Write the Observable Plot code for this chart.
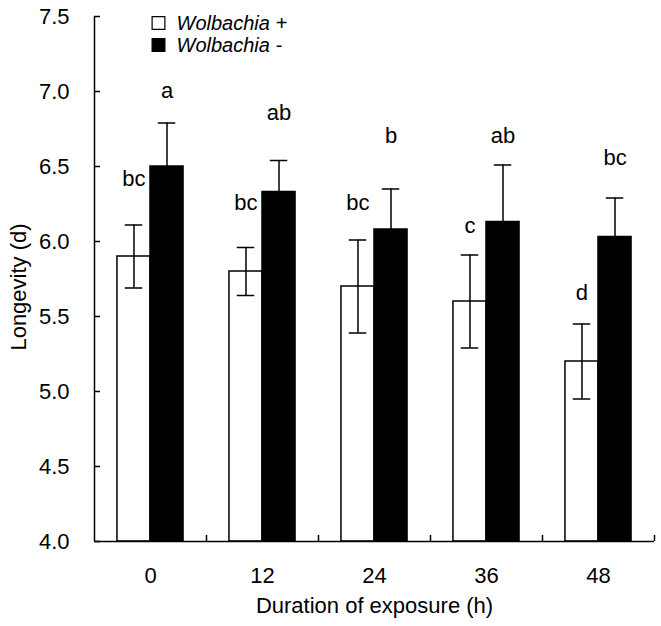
<!DOCTYPE html>
<html><head><meta charset="utf-8">
<script src="https://cdn.jsdelivr.net/npm/d3@7"></script>
<script src="https://cdn.jsdelivr.net/npm/@observablehq/plot@0.6"></script>
<style>body{margin:0;background:#fff} svg{display:block}</style>
</head><body><div id="chart"></div>
<script>
// ---- data ----
const durations = ["0", "12", "24", "36", "48"];
const seriesNames = ["Wolbachia +", "Wolbachia -"];
const wolPlusMean = [5.90, 5.80, 5.70, 5.60, 5.20];
const wolPlusSE = [0.21, 0.16, 0.31, 0.31, 0.25];
const wolMinusMean = [6.50, 6.33, 6.08, 6.13, 6.03];
const wolMinusSE = [0.29, 0.21, 0.27, 0.38, 0.26];
const wolPlusLetters = ["bc", "bc", "bc", "c", "d"];
const wolMinusLetters = ["a", "ab", "b", "ab", "bc"];
const wolPlusLetterY = [6.37, 6.21, 6.21, 6.06, 5.61];
const wolMinusLetterY = [6.955, 6.81, 6.66, 6.66, 6.51];
const yTicks = [4.0, 4.5, 5.0, 5.5, 6.0, 6.5, 7.0, 7.5];

// ---- build table ----
const barW = 0.295, capW = 0.078;
const rows = [];
durations.forEach((d, i) => {
  rows.push({i, series: seriesNames[0], mean: wolPlusMean[i], se: wolPlusSE[i], letter: wolPlusLetters[i], ly: wolPlusLetterY[i], x1: i - barW, x2: i, xc: i - barW / 2});
  rows.push({i, series: seriesNames[1], mean: wolMinusMean[i], se: wolMinusSE[i], letter: wolMinusLetters[i], ly: wolMinusLetterY[i], x1: i, x2: i + barW, xc: i + barW / 2});
});
const plus = rows.filter(r => r.series === seriesNames[0]);
const minus = rows.filter(r => r.series === seriesNames[1]);
const groupBounds = durations.map((d, i) => i + 0.5);
const yMin = yTicks[0], yMax = yTicks[yTicks.length - 1];

const font = "'Liberation Sans', Arial, sans-serif";
const chart = Plot.plot({
  width: 661, height: 626,
  marginLeft: 94, marginRight: 7, marginTop: 16, marginBottom: 85,
  style: {fontFamily: font, fontSize: "22px", color: "#000", background: "#fff"},
  x: {type: "linear", domain: [-0.5, durations.length - 0.5]},
  y: {domain: [yMin, yMax]},
  marks: [
    // bars
    Plot.rectY(plus, {x1: "x1", x2: "x2", y1: yMin, y2: "mean", fill: "white", stroke: "black", strokeWidth: 1.5}),
    Plot.rectY(minus, {x1: "x1", x2: "x2", y1: yMin, y2: "mean", fill: "black", stroke: "black", strokeWidth: 1.5}),
    // error bars
    Plot.ruleX(plus, {x: "xc", y1: d => d.mean - d.se, y2: d => d.mean + d.se, stroke: "black", strokeWidth: 1.5}),
    Plot.ruleY(plus, {y: d => d.mean + d.se, x1: d => d.xc - capW, x2: d => d.xc + capW, stroke: "black", strokeWidth: 1.5}),
    Plot.ruleY(plus, {y: d => d.mean - d.se, x1: d => d.xc - capW, x2: d => d.xc + capW, stroke: "black", strokeWidth: 1.5}),
    Plot.ruleX(minus, {x: "xc", y1: "mean", y2: d => d.mean + d.se, stroke: "black", strokeWidth: 1.5}),
    Plot.ruleY(minus, {y: d => d.mean + d.se, x1: d => d.xc - capW, x2: d => d.xc + capW, stroke: "black", strokeWidth: 1.5}),
    // significance letters
    Plot.text(rows, {x: "xc", y: "ly", text: "letter", lineAnchor: "bottom", fontSize: 22, fill: "black"}),
    // axis lines
    Plot.ruleX([-0.5], {stroke: "black", strokeWidth: 1.5}),
    Plot.ruleY([yMin], {stroke: "black", strokeWidth: 1.5}),
    // y axis
    Plot.axisY(yTicks, {tickSize: -6, tickFormat: () => "", label: null, strokeWidth: 1.5}),
    Plot.axisY(yTicks, {tickSize: 0, tickPadding: 25, tickFormat: d3.format(".1f"), label: null, fontSize: 22}),
    // x axis
    Plot.axisX(groupBounds, {tickSize: -6, tickFormat: () => "", label: null, strokeWidth: 1.5}),
    Plot.axisX(d3.range(durations.length), {tickSize: 0, tickPadding: 26, tickFormat: i => durations[i], label: null, fontSize: 22}),
    // axis titles
    Plot.text(["Duration of exposure (h)"], {text: d => d, frameAnchor: "bottom", dy: 71, lineAnchor: "bottom", textAnchor: "middle", fontSize: 22}),
    Plot.text(["Longevity (d)"], {text: d => d, frameAnchor: "left", rotate: -90, dx: -84, dy: 8, lineAnchor: "top", textAnchor: "middle", fontSize: 22}),
    // legend
    Plot.dot([seriesNames[0]], {frameAnchor: "top-left", dx: 64, dy: 6.5, symbol: "square", r: 7.2, fill: "white", stroke: "black", strokeWidth: 1.2}),
    Plot.dot([seriesNames[1]], {frameAnchor: "top-left", dx: 64, dy: 28.5, symbol: "square", r: 7.2, fill: "black", stroke: "black", strokeWidth: 1.2}),
    Plot.text([seriesNames[0]], {text: d => d, frameAnchor: "top-left", dx: 82, dy: 13, lineAnchor: "bottom", textAnchor: "start", fontSize: 20, fontStyle: "italic"}),
    Plot.text([seriesNames[1]], {text: d => d, frameAnchor: "top-left", dx: 82, dy: 35, lineAnchor: "bottom", textAnchor: "start", fontSize: 20, fontStyle: "italic"})
  ]
});
document.getElementById("chart").appendChild(chart);
</script>
</body></html>
